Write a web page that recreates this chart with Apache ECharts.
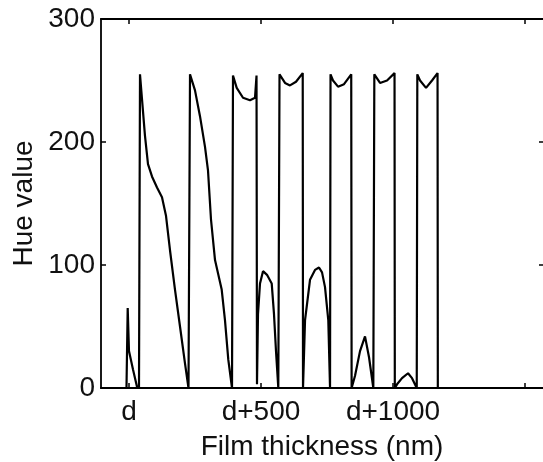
<!DOCTYPE html>
<html>
<head>
<meta charset="utf-8">
<script src="https://cdn.jsdelivr.net/npm/echarts@6/dist/echarts.min.js"></script>
<style>
  html, body { margin: 0; padding: 0; background: #fff; }
  #chart { width: 543px; height: 462px; }
</style>
</head>
<body>
<div id="chart"></div>
<script>
// film thickness, nm above d
const thickness = [
  -9.5, -4.9, 0, 15.2, 30.3, 37.9,
  41.7, 49.2, 60.6, 72.0, 87.1, 106.1, 125.0, 140.2, 155.3, 174.2, 193.2, 212.1, 225.4,
  231.1, 250.0, 268.9, 287.9, 299.2, 310.6, 325.8, 351.1, 363.6, 376.1, 390.2,
  393.9, 408.0, 431.8, 458.3, 477.3, 483.0,
  484.8, 488.6, 496.2, 507.6, 522.7, 540.5, 549.2, 556.8, 565.5,
  570.1, 575.8, 590.9, 609.8, 632.6, 658.0,
  659.1, 666.7, 685.6, 704.5, 719.7, 731.1, 742.4, 754.9, 761.4,
  763.3, 772.7, 791.7, 814.4, 841.7,
  843.2, 856.1, 875.0, 893.9, 909.1, 925.4,
  929.2, 935.6, 950.8, 977.3, 1005.7,
  1006.8, 1015.2, 1034.1, 1056.8, 1072.0, 1089.8,
  1092.0, 1102.3, 1125.0, 1147.7, 1168.6,
  1169.7, 1197.0, 1568
]
// hue value at each thickness
const hue = [
  0, 65, 30, 15, 1, 0,
  255, 235, 205, 182, 172, 163, 155, 140, 112, 80, 50, 20, 0,
  255, 242, 221, 196, 177, 137, 104, 80, 55, 23, 0,
  254, 244, 236, 234, 236, 254,
  3, 60, 85, 95, 92, 85, 60, 30, 0,
  255, 254, 248, 246, 249, 256,
  0, 55, 88, 96, 98, 94, 82, 55, 0,
  255, 250, 245, 247, 255,
  0, 10, 30, 42, 25, 0,
  255, 254, 248, 250, 256,
  0, 3, 8, 12, 8, 0,
  255, 250, 244, 250, 256,
  0, 0, 0
]
const xTicks = [0, 500, 1000, 1500]
const xLabels = [0, 500, 1000]

const points = thickness.map((t, i) => [t, hue[i]])
const font = 'Liberation Sans, Arial, Helvetica, sans-serif'

const chart = echarts.init(document.getElementById('chart'))
chart.setOption({
  animation: false,
  // the frame runs on past the right edge of the picture
  grid: { left: 101, right: 0, top: 19, bottom: 74, outerBoundsMode: 'none', containLabel: false },
  xAxis: [{
    type: 'value', position: 'bottom', min: -106, max: 1568,
    name: 'Film thickness (nm)', nameLocation: 'middle', nameGap: 45,
    nameTextStyle: { fontSize: 28, color: '#111', fontFamily: font },
    axisLine: { onZero: false, lineStyle: { color: '#000', width: 2.2 } },
    axisTick: { inside: true, length: 5, customValues: xTicks, lineStyle: { color: '#000', width: 1.5 } },
    axisLabel: {
      customValues: xLabels, margin: 10, fontSize: 28, color: '#111', fontFamily: font,
      formatter: v => v === 0 ? 'd' : 'd+' + v
    },
    splitLine: { show: false }
  }, {
    type: 'value', position: 'top', min: -106, max: 1568,
    axisLine: { onZero: false, lineStyle: { color: '#000', width: 2 } },
    axisTick: { inside: true, length: 5, customValues: xTicks, lineStyle: { color: '#000', width: 1.5 } },
    axisLabel: { show: false },
    splitLine: { show: false }
  }],
  yAxis: [{
    type: 'value', position: 'left', min: 0, max: 300, interval: 100,
    name: 'Hue value', nameLocation: 'middle', nameGap: 63, nameMoveOverlap: false,
    nameTextStyle: { fontSize: 28, color: '#111', fontFamily: font },
    axisLine: { show: true, onZero: false, lineStyle: { color: '#000', width: 1.8 } },
    axisTick: { inside: true, length: 5, lineStyle: { color: '#000', width: 1.5 } },
    axisLabel: { margin: 6, fontSize: 28, color: '#111', fontFamily: font },
    splitLine: { show: false }
  }, {
    type: 'value', position: 'right', min: 0, max: 300, interval: 100,
    axisLine: { show: false, onZero: false },
    axisTick: { show: true, inside: true, length: 4, lineStyle: { color: '#000', width: 1.5 } },
    axisLabel: { show: false },
    splitLine: { show: false }
  }],
  series: [{
    type: 'line',
    data: points,
    showSymbol: false,
    lineStyle: { color: '#000', width: 2.2 }
  }]
})
</script>
</body>
</html>
